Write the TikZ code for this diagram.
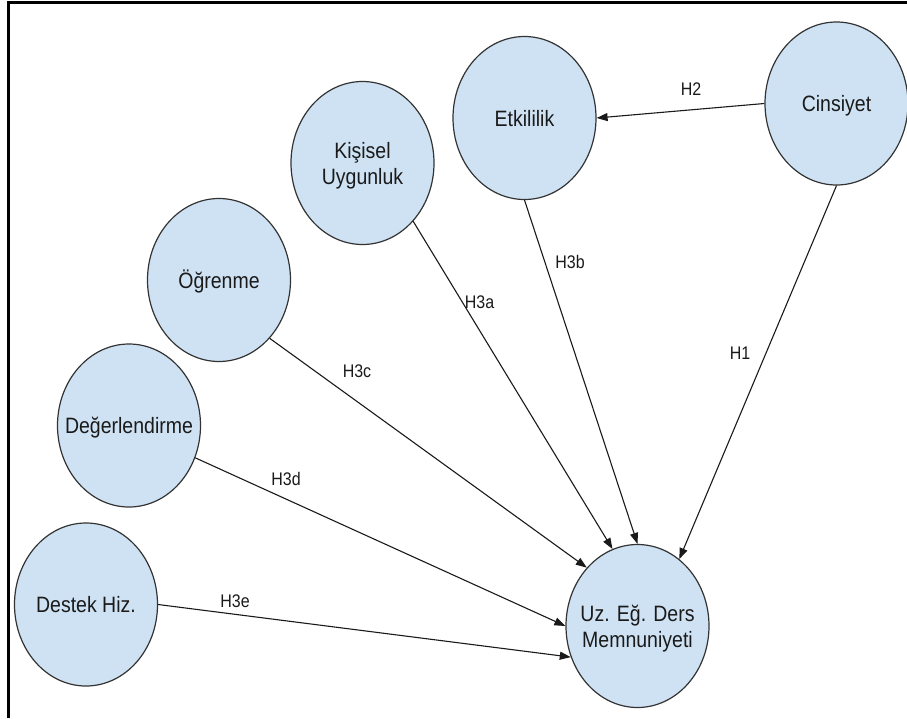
\documentclass[tikz,border=0pt]{standalone}
\usepackage{fontspec}
\usepackage{graphicx}
\setmainfont{Liberation Sans}
\usetikzlibrary{shapes.geometric,arrows.meta}
\definecolor{bubble}{HTML}{CFE2F3}
\definecolor{rim}{HTML}{333333}
\definecolor{ink}{HTML}{1A1A1A}
\newcommand{\vtxt}[1]{\scalebox{1}[1.14]{\begin{tabular}{@{}c@{}}#1\end{tabular}}}
\newcommand{\ctxt}[1]{\makebox[0pt]{\raisebox{-3pt}[\height][\depth]{\vtxt{#1}}}}
\begin{document}
\begin{tikzpicture}[x=1pt,y=-1pt,
  construct/.style={ellipse,draw=rim,fill=bubble,line width=1.2pt,
    minimum width=143pt,minimum height=163pt,inner sep=0pt,
    text=ink,font=\fontsize{19.5}{23.4}\selectfont},
  hyp/.style={text=ink,inner sep=0pt,font=\fontsize{16}{18}\selectfont},
  link/.style={draw=ink,line width=1.1pt,-{Triangle[length=11pt,width=8pt]}},
  frame/.style={draw=black,line width=2.4pt}]
\useasboundingbox (0,0) rectangle (907,718);
\draw[frame] (8.5,718) -- (8.5,2.5) -- (907,2.5);

\node[construct] (cin) at (836.5,103.5) {\ctxt{Cinsiyet}};
\node[construct] (etk) at (524.5,118) {\ctxt{Etkililik}};
\node[construct] (kis) at (362.5,163) {\ctxt{Kişisel\\Uygunluk}};
\node[construct] (ogr) at (219,280) {\ctxt{Öğrenme}};
\node[construct] (deg) at (129,425.5) {\ctxt{Değerlendirme}};
\node[construct] (des) at (86,604.5) {\ctxt{Destek Hiz.}};
\node[construct] (uz) at (637.5,626) {\ctxt{Uz. Eğ. Ders\\Memnuniyeti}};

\draw[link] (cin.180) -- (etk.0);
\draw[link] (cin.270) -- (uz.58);
\draw[link] (etk.270) -- (uz.90);
\draw[link] (kis.311) -- (uz.108);
\draw[link] (ogr.311) -- (uz.131.5);
\draw[link] (deg.334) -- (uz.180);
\draw[link] (des.0) -- (uz.205);

\node[hyp] (h2) at (691,91) {\vtxt{H2}};
\node[hyp] (h1) at (740,355) {\vtxt{H1}};
\node[hyp] (h3b) at (570,264) {\vtxt{H3b}};
\node[hyp] (h3a) at (479.5,304) {\vtxt{H3a}};
\node[hyp] (h3c) at (357,373) {\vtxt{H3c}};
\node[hyp] (h3d) at (286,481) {\vtxt{H3d}};
\node[hyp] (h3e) at (235,603) {\vtxt{H3e}};
\end{tikzpicture}
\end{document}
